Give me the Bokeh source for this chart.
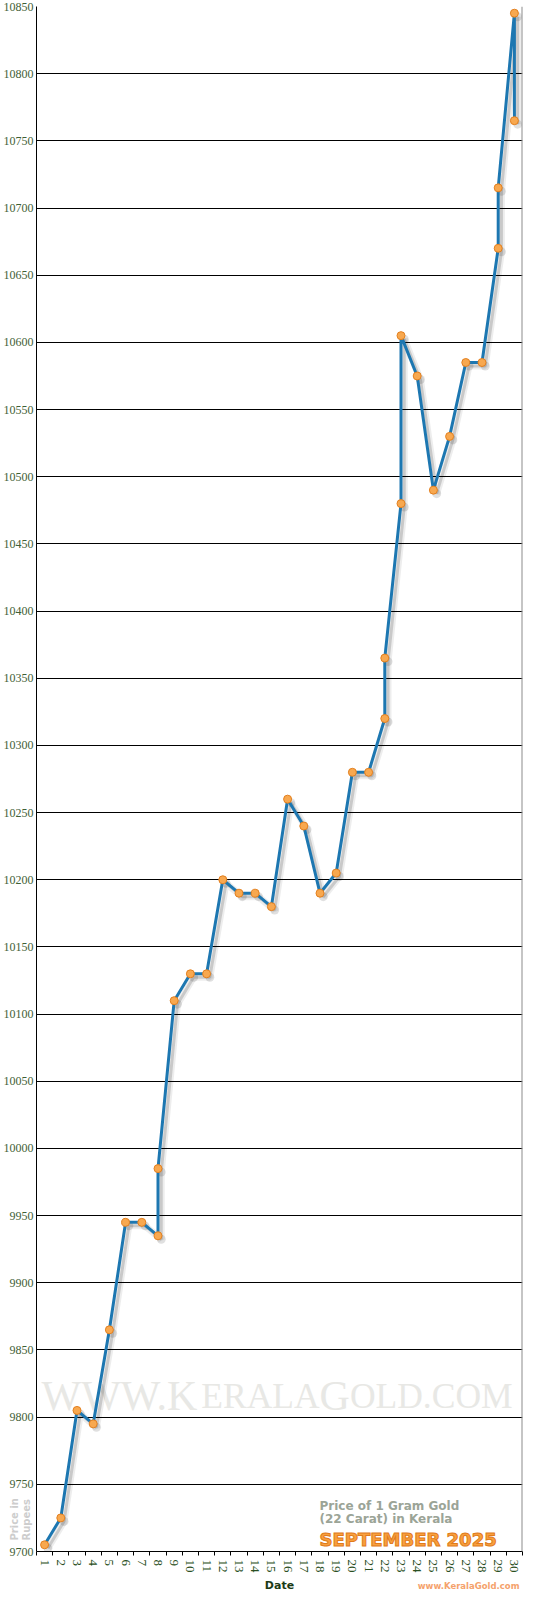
import math
from bokeh.plotting import figure
from bokeh.models import ColumnDataSource, FixedTicker, Label, Span, Range1d
from bokeh.transform import dodge
from bokeh.embed import file_html
from bokeh.resources import INLINE

# ---- data -------------------------------------------------------------
days = [1, 2, 3, 4, 5, 6, 7, 8, 8, 9, 10, 11, 12, 13, 14, 15, 16, 17, 18, 19,
        20, 21, 22, 22, 23, 23, 24, 25, 26, 27, 28, 29, 29, 30, 30]
prices = [9705, 9725, 9805, 9795, 9865, 9945, 9945, 9935, 9985, 10110, 10130,
          10130, 10200, 10190, 10190, 10180, 10260, 10240, 10190, 10205, 10280,
          10280, 10320, 10365, 10480, 10605, 10575, 10490, 10530, 10585, 10585,
          10670, 10715, 10845, 10765]
day_ticks = list(range(1, 31))
price_ticks = [9700, 9750, 9800, 9850, 9900, 9950, 10000, 10050, 10100, 10150,
               10200, 10250, 10300, 10350, 10400, 10450, 10500, 10550, 10600,
               10650, 10700, 10750, 10800, 10850]

X0, X1 = 0.5, 30.5
Y0, Y1 = 9700, 10850
FW, FH = 486, 1545
XPU = FW / (X1 - X0)
YPU = FH / (Y1 - Y0)


def xl(px):      # px right of frame left (data units)
    return X0 + px / XPU


def xr(px):      # px left of frame right (data units)
    return X1 - px / XPU


def yb(px):      # px above frame bottom (data units)
    return Y0 + px / YPU


src = ColumnDataSource(data=dict(day=days, price=prices))

p = figure(frame_width=FW, frame_height=FH,
           x_range=Range1d(X0, X1), y_range=Range1d(Y0, Y1),
           output_backend="svg", toolbar_location=None,
           min_border_left=33, min_border_right=13,
           min_border_top=6, min_border_bottom=41,
           background_fill_color="white", border_fill_color="white")
p.outline_line_color = None

# axes
p.yaxis.ticker = FixedTicker(ticks=price_ticks)
p.yaxis.major_tick_out = 0
p.yaxis.major_tick_in = 0
p.yaxis.minor_tick_out = 0
p.yaxis.minor_tick_in = 0
p.yaxis.major_label_standoff = 3
p.yaxis.axis_line_color = "black"
p.yaxis.major_label_text_font = "Liberation Serif"
p.yaxis.major_label_text_font_size = "12px"
p.yaxis.major_label_text_color = "#3f6036"

p.xaxis.ticker = FixedTicker(ticks=day_ticks,
                             minor_ticks=[d - 0.5 for d in day_ticks] + [day_ticks[-1] + 0.5])
p.xaxis.major_tick_out = 0
p.xaxis.major_tick_in = 0
p.xaxis.minor_tick_out = 4
p.xaxis.minor_tick_in = 0
p.xaxis.minor_tick_line_color = "black"
p.xaxis.major_label_standoff = 4
p.xaxis.major_label_orientation = "vertical"
p.xaxis.major_label_text_font = "Liberation Serif"
p.xaxis.major_label_text_font_size = "13px"
p.xaxis.major_label_text_color = "#2a4f22"
p.xaxis.axis_line_color = "black"
p.xaxis.axis_label = "Date"
p.xaxis.axis_label_text_font = "DejaVu Sans"
p.xaxis.axis_label_text_font_style = "bold"
p.xaxis.axis_label_text_font_size = "11px"
p.xaxis.axis_label_text_color = "#1c3a16"
p.xaxis.axis_label_standoff = 3

p.ygrid.ticker = FixedTicker(ticks=price_ticks)
p.ygrid.grid_line_color = "black"
p.ygrid.grid_line_width = 1
p.xgrid.grid_line_color = None

p.add_layout(Span(location=X1, dimension="height", line_color="#8c8c8c", line_width=2))

# watermark (small caps composite)
wm_pieces = [("WWW.K", 42, 3.804), ("ERALA", 35.5, 3.333), ("G", 42, 0.722), ("OLD.COM", 35.5, 4.583)]
pos = 5.0
for txt, fs, em in wm_pieces:
    p.add_layout(Label(x=xl(pos), y=yb(156), text=txt, text_font="Liberation Serif",
                       text_font_size=f"{fs}px", text_color="#e8e8e5",
                       text_align="left", text_baseline="alphabetic", level="image"))
    pos += fs * em

# shadows
p.line(x=dodge("day", 0.2), y=dodge("price", -2.6), source=src,
       line_color="black", line_alpha=0.07, line_width=7)
p.line(x=dodge("day", 0.2), y=dodge("price", -2.6), source=src,
       line_color="black", line_alpha=0.15, line_width=3)
p.scatter(x=dodge("day", 0.2), y=dodge("price", -2.6), source=src,
          size=9, fill_color="black", fill_alpha=0.12, line_color=None)

# main series
p.line(x="day", y="price", source=src, line_color="#1d77b1", line_width=3)
p.scatter(x="day", y="price", source=src, size=8,
          fill_color="#f8a84f", line_color="#e3801f", line_width=1)

# captions inside the frame
p.add_layout(Label(x=xr(203), y=yb(46), text="Price of 1 Gram Gold",
                   text_font="DejaVu Sans", text_font_style="bold",
                   text_font_size="12px", text_color="#9ba497",
                   text_align="left", text_baseline="alphabetic"))
p.add_layout(Label(x=xr(203), y=yb(33), text="(22 Carat) in Kerala",
                   text_font="DejaVu Sans", text_font_style="bold",
                   text_font_size="12px", text_color="#9ba497",
                   text_align="left", text_baseline="alphabetic"))
p.add_layout(Label(x=xr(203), y=yb(12), text="SEPTEMBER 2025",
                   text_font="DejaVu Sans", text_font_style="bold",
                   text_font_size="18px", text_color="#f9a03f",
                   text_outline_color="#e07b1a",
                   text_align="left", text_baseline="alphabetic"))

# captions outside the frame: kept in side panels (not clipped); their
# position comes from data coordinates, the panel only reserves a little room
p.add_layout(Label(x=xl(-16.4), y=yb(11), text="Price in\nRupees", angle=math.pi / 2,
                   text_font="DejaVu Sans", text_font_style="bold",
                   text_font_size="10px", text_color="#cdcdcd",
                   text_line_height=1.1,
                   text_align="left", text_baseline="middle"), "right")
p.add_layout(Label(x=xr(3), y=yb(-34), text="www.KeralaGold.com",
                   text_font="DejaVu Sans", text_font_style="bold",
                   text_font_size="8.5px", text_color="#f5a26c",
                   text_align="right", text_baseline="alphabetic"), "below")

open("out.html", "w").write(file_html(p, INLINE))
